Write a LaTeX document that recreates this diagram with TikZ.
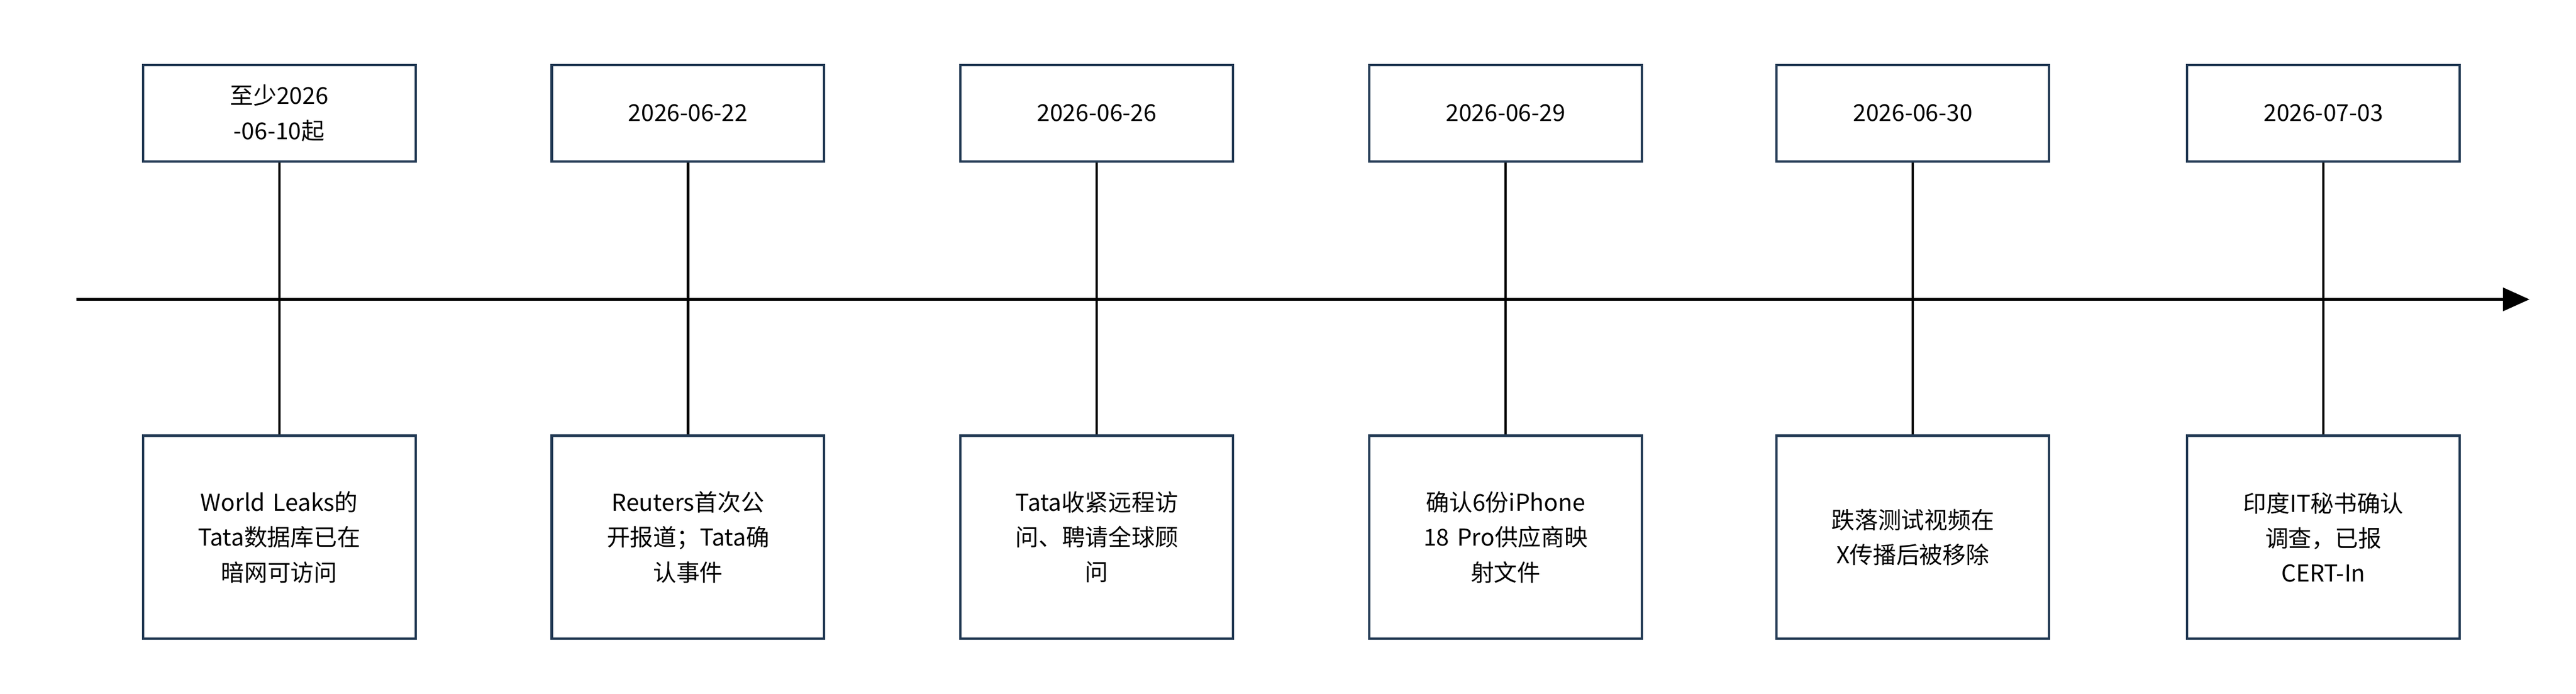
\documentclass[tikz,border=0pt]{standalone}
\usepackage{fontspec}
\setmainfont{Noto Sans CJK SC}
\usetikzlibrary{arrows.meta}
\definecolor{navy}{HTML}{243B55}
\begin{document}
\begin{tikzpicture}[x=1pt,y=-1pt,
  box/.style={draw=navy,line width=1.4pt,fill=white,minimum width=164pt,text width=140pt,align=center,font=\fontsize{14}{21}\selectfont,inner sep=0pt},
  top/.style={box,minimum height=58pt},
  bot/.style={box,minimum height=122pt},
  stem/.style={line width=1.4pt}]
\useasboundingbox (0,0) rectangle (1550,417);
\coordinate (s) at (46,180);
\coordinate (e) at (1522,180);
\draw[line width=1.5pt,-{Triangle[length=16pt,width=14pt]}] (s) -- (e);
\foreach \i/\x/\d/\t in {
 1/168/{至少2026\\-06-10起}/{World Leaks的\\Tata数据库已在\\暗网可访问},
 2/414/{2026-06-22}/{Reuters首次公\\开报道；Tata确\\认事件},
 3/660/{2026-06-26}/{Tata收紧远程访\\问、聘请全球顾\\问},
 4/906/{2026-06-29}/{确认6份iPhone\\18 Pro供应商映\\射文件},
 5/1151/{2026-06-30}/{跌落测试视频在\\X传播后被移除},
 6/1398/{2026-07-03}/{印度IT秘书确认\\调查，已报\\CERT-In}}{
 \node[top] (d\i) at (\x,68) {\d};
 \node[bot] (t\i) at (\x,323) {\t};
 \draw[stem] (d\i) -- (t\i);
 \node[top] at (\x,68) {\d};
 \node[bot] at (\x,323) {\t};
}
\end{tikzpicture}
\end{document}
